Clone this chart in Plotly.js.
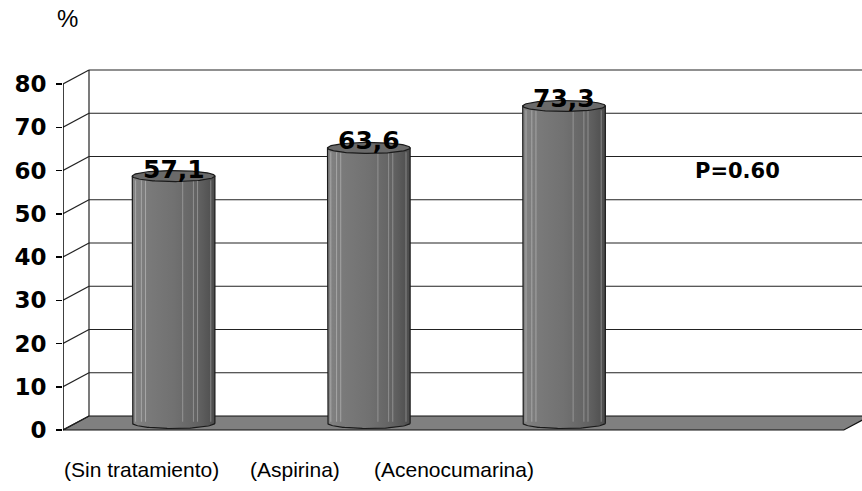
<!DOCTYPE html>
<html>
<head>
<meta charset="utf-8">
<script src="https://cdn.plot.ly/plotly-3.0.1.min.js"></script>
<style>
  html, body { margin: 0; padding: 0; background: #ffffff; }
  #chart { width: 862px; height: 491px; }
</style>
</head>
<body>
<div id="chart"></div>
<script>
// Percentages per treatment group
const categories = ['(Sin tratamiento)', '(Aspirina)', '(Acenocumarina)'];
const values = [57.1, 63.6, 73.3];
const yTicks = [0, 10, 20, 30, 40, 50, 60, 70, 80];
const pValueText = 'P=0.60';
const unitText = '%';

// Oblique 3D look: depth offset of the back wall in axis units
const DX = 0.1332;   // horizontal shift (category units)
const DY = 3.237;    // vertical shift (value units)
const SLOTS = 4;     // floor spans four category slots
const X0 = -0.5;
const X_END = 3.593;
const Y_MIN = -14.10, Y_MAX = 99.42;
const R = 0.2116;    // cylinder half-width (category units)
const B = 1.27;      // ellipse half-height (value units)

const shapes = [];
const line = (x0, y0, x1, y1, color, width) => shapes.push({
  type: 'line', xref: 'x', yref: 'y', x0, y0, x1, y1, layer: 'below',
  line: { color, width }
});

// Floor
shapes.push({
  type: 'path', xref: 'x', yref: 'y', layer: 'below',
  path: `M ${X0} 0 L ${X0 + SLOTS} 0 L ${X0 + SLOTS + DX} ${DY} L ${X0 + DX} ${DY} Z`,
  fillcolor: '#808080', line: { color: '#111', width: 1.2 }
});

// Back wall gridlines and side wall diagonals
yTicks.forEach(v => {
  if (v > 0) line(X0 + DX, v + DY, X_END + 1, v + DY, '#222', 1.2);
  line(X0, v, X0 + DX, v + DY, '#222', 1.2);
});
line(X0 + DX, DY, X0 + DX, yTicks[yTicks.length - 1] + DY, '#222', 1.2);
// Front value axis
line(X0, 0, X0, yTicks[yTicks.length - 1], '#000', 1.5);

const traces = [];
const N = 60;
values.forEach((v, i) => {
  const cx = i + DX / 2;
  const base = DY / 2;
  const top = v + DY / 2;

  // Cylinder body: sides plus the front half of the base ellipse
  const bx = [cx - R], by = [top];
  for (let k = 0; k <= N; k++) {
    const t = Math.PI * k / N;
    bx.push(cx - R * Math.cos(t));
    by.push(base - B * Math.sin(t));
  }
  bx.push(cx + R); by.push(top);
  bx.push(cx - R); by.push(top);
  traces.push({
    type: 'scatter', mode: 'lines', x: bx, y: by, fill: 'toself',
    fillgradient: {
      type: 'horizontal',
      colorscale: [[0, '#848484'], [0.15, '#7b7b7b'], [0.5, '#717171'], [0.8, '#626262'], [1, '#4c4c4c']]
    },
    line: { color: '#1a1a1a', width: 1.2 },
    hoverinfo: 'skip', showlegend: false
  });

  // Thin vertical highlights on the body
  [0.04, 0.11, 0.16, 0.61, 0.74, 0.79, 0.95].forEach((f, j) => {
    const xx = cx - R + 2 * R * f;
    traces.push({
      type: 'scatter', mode: 'lines',
      x: [xx, xx], y: [base + 0.3, top - 1.0],
      line: { color: j < 3 ? 'rgba(200,200,200,0.55)' : 'rgba(190,190,190,0.5)', width: 1 },
      hoverinfo: 'skip', showlegend: false
    });
  });

  // Top cap
  const tx = [], ty = [];
  for (let k = 0; k <= 2 * N; k++) {
    const t = Math.PI * k / N;
    tx.push(cx + R * Math.cos(t));
    ty.push(top + B * Math.sin(t));
  }
  traces.push({
    type: 'scatter', mode: 'lines', x: tx, y: ty, fill: 'toself',
    fillcolor: '#6a6a6a', line: { color: '#1a1a1a', width: 1.2 },
    hoverinfo: 'skip', showlegend: false
  });
});

const boldFont = { family: 'DejaVu Sans', size: 23, color: '#000', weight: 'bold' };

const annotations = values.map((v, i) => ({
  x: i + DX / 2, y: v + DY / 2, xref: 'x', yref: 'y',
  text: v.toFixed(1).replace('.', ','),
  showarrow: false, xanchor: 'center', yanchor: 'middle', yshift: 7,
  font: { family: 'DejaVu Sans', size: 25, color: '#000', weight: 'bold' }
}));

// Category captions under the floor
const paperX = px => (px - 63) / 799;
const paperY = py => 1 - py / 491;
const captionX = [141.5, 295, 453.5];
categories.forEach((c, i) => annotations.push({
  xref: 'paper', yref: 'paper', x: paperX(captionX[i]), y: paperY(469),
  text: c, showarrow: false, xanchor: 'center', yanchor: 'middle',
  font: { family: 'Liberation Sans, Arial, sans-serif', size: 21, color: '#000' }
}));

annotations.push({
  xref: 'paper', yref: 'paper', x: paperX(737), y: paperY(171),
  text: pValueText, showarrow: false, xanchor: 'center', yanchor: 'middle',
  font: { family: 'DejaVu Sans', size: 21, color: '#000', weight: 'bold' }
});
annotations.push({
  xref: 'paper', yref: 'paper', x: paperX(67.5), y: paperY(19),
  text: unitText, showarrow: false, xanchor: 'center', yanchor: 'middle',
  font: { family: 'Liberation Sans, Arial, sans-serif', size: 24, color: '#000' }
});

const layout = {
  width: 862, height: 491,
  margin: { l: 63, r: 0, t: 0, b: 0, pad: 0 },
  paper_bgcolor: '#ffffff', plot_bgcolor: '#ffffff',
  showlegend: false,
  xaxis: {
    range: [X0, X_END], showgrid: false, zeroline: false, showline: false,
    showticklabels: false, ticks: '', fixedrange: true
  },
  yaxis: {
    range: [Y_MIN, Y_MAX], tickvals: yTicks, ticktext: yTicks.map(String),
    ticks: 'outside', ticklen: 6, tickwidth: 1.5, tickcolor: '#000',
    ticklabelstandoff: 5,
    showgrid: false, zeroline: false, showline: false,
    tickfont: boldFont, fixedrange: true
  },
  shapes, annotations
};

Plotly.newPlot('chart', traces, layout, { staticPlot: true, displayModeBar: false });
</script>
</body>
</html>
